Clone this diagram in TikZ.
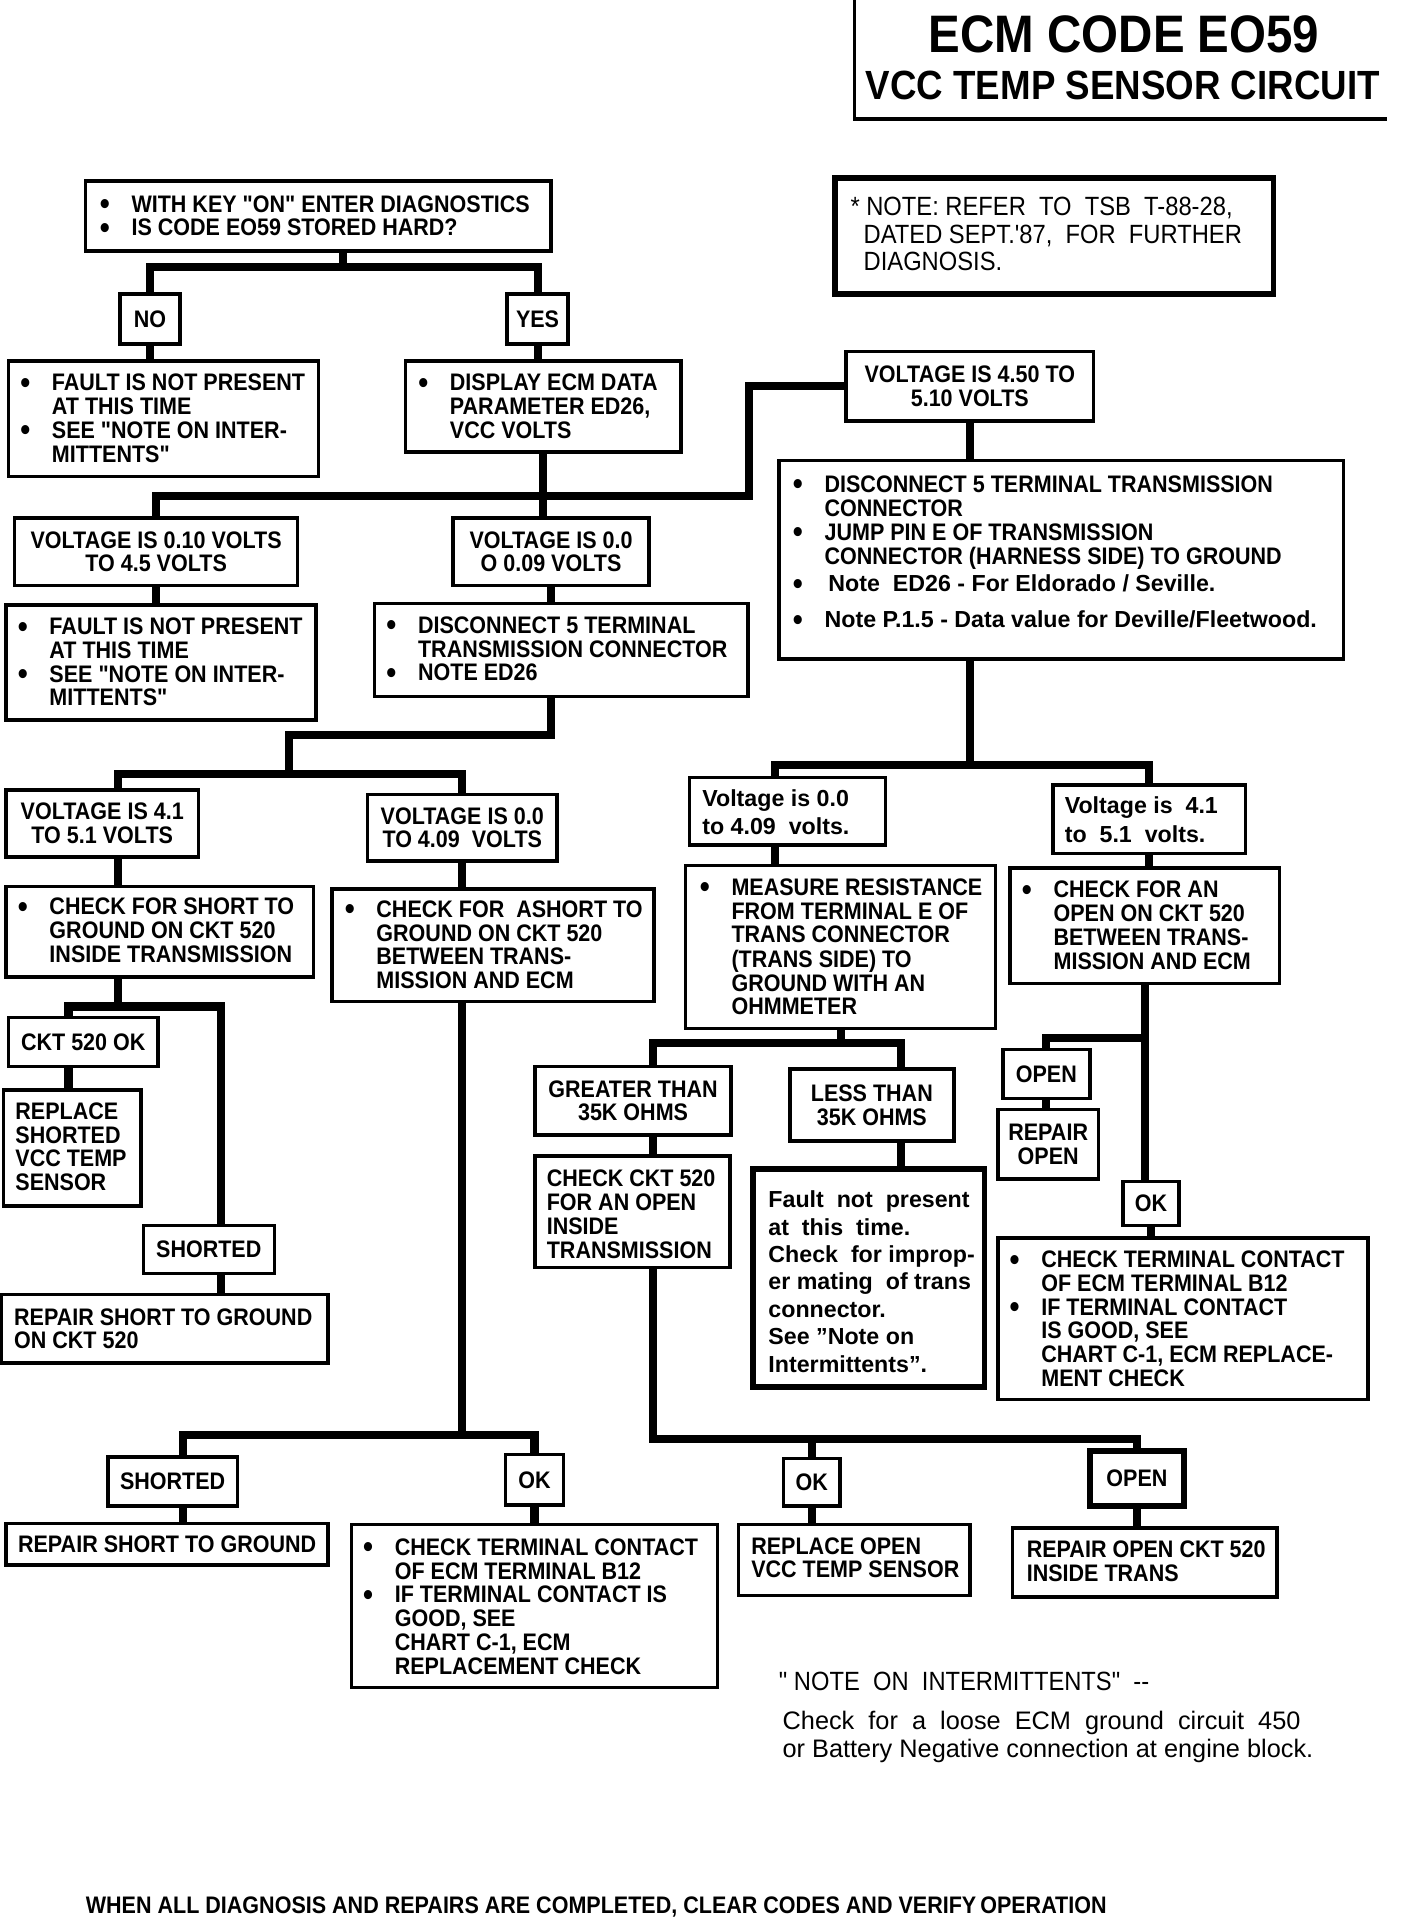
\documentclass[tikz,border=0pt]{standalone}
\usepackage{fontspec}
\setmainfont{Liberation Sans}
\newfontfamily\condfont[FakeStretch=0.9]{Liberation Sans}
\usetikzlibrary{fit}

\newcommand{\itm}{\makebox[9pt][l]{\raisebox{-0.7pt}{\fontsize{9}{9}\selectfont\textbullet}}}
\newcommand{\ind}{\hspace*{9pt}}
\newcommand{\helv}{\normalfont\bfseries\fontsize{6.6}{7.8}\selectfont}
\newcommand{\rows}[1]{\begin{tabular}{@{}l@{}}#1\end{tabular}}

\tikzset{
  cbox/.style={draw, line width=1pt, inner sep=0pt},
  ctext/.style={anchor=north west, inner sep=0pt,
    font=\condfont\bfseries\fontsize{6.8}{6.7}\selectfont},
  ttext/.style={inner sep=0pt, align=center,
    font=\condfont\bfseries\fontsize{6.8}{6.7}\selectfont},
  htext/.style={ctext, font=\helv},
  heavy/.style={line width=1.7pt},
  conn/.style={line width=2.3pt},
}

\begin{document}
\begin{tikzpicture}[x=0.012245cm, y=-0.012245cm]
    \useasboundingbox (0,0) rectangle (1150,1568);

    % title block
    \draw[line width=1pt] (698,0) -- (698,97) -- (1133,97);
    \node[font=\condfont\bfseries\fontsize{15}{18}\selectfont] (title) at (918,28) {ECM CODE EO59};
    \node[font=\condfont\bfseries\fontsize{11.6}{14}\selectfont] (subtitle) at (917,70) {VCC TEMP SENSOR CIRCUIT};

    % TSB note
    \node[cbox, heavy, fit={(682,145) (1040,240)}] (tsb) {};
    \node[ctext, font=\condfont\fontsize{7.5}{7.8}\selectfont] (tsbT) at (694,160)
        {\rows{* NOTE: REFER\ \ TO\ \ TSB\ \ T-88-28,\\
         \ \ DATED SEPT.'87,\ \ FOR\ \ FURTHER\\
         \ \ DIAGNOSIS.}};

    % start
    \node[cbox, fit={(70,148) (450,205)}] (start) {};
    \node[ctext] (startT) at (81,159)
        {\rows{\itm WITH KEY "ON" ENTER DIAGNOSTICS\\
         \itm IS CODE EO59 STORED HARD?}};
    \node[cbox, fit={(98,240) (147,281)}] (no) {};
    \node[ttext] (noT) at (no) {NO};
    \node[cbox, fit={(414,240) (464,281)}] (yes) {};
    \node[ttext] (yesT) at (yes) {YES};
    \node[cbox, fit={(7,295) (260,389)}] (flt1) {};
    \node[ctext] (flt1T) at (16,305)
        {\rows{\itm FAULT IS NOT PRESENT\\
         \ind AT THIS TIME\\
         \itm SEE "NOTE ON INTER-\\
         \ind MITTENTS"}};
    \node[cbox, fit={(331,295) (556,369)}] (disp) {};
    \node[ctext] (dispT) at (341,305)
        {\rows{\itm DISPLAY ECM DATA\\
         \ind PARAMETER ED26,\\
         \ind VCC VOLTS}};

    % ED26 readings
    \node[cbox, fit={(691,287) (893,344)}] (v45) {};
    \node[ttext] (v45T) at (v45) {VOLTAGE IS 4.50 TO\\ 5.10 VOLTS};
    \node[cbox, fit={(12,423) (243,478)}] (v010) {};
    \node[ttext] (v010T) at (v010) {VOLTAGE IS 0.10 VOLTS\\ TO 4.5 VOLTS};
    \node[cbox, fit={(370,423) (530,478)}] (v000) {};
    \node[ttext] (v000T) at (v000) {VOLTAGE IS 0.0\\ O 0.09 VOLTS};
    \node[cbox, fit={(5,494) (258,588)}] (flt2) {};
    \node[ctext] (flt2T) at (14,504)
        {\rows{\itm FAULT IS NOT PRESENT\\
         \ind AT THIS TIME\\
         \itm SEE "NOTE ON INTER-\\
         \ind MITTENTS"}};
    \node[cbox, fit={(306,493) (611,569)}] (dis5) {};
    \node[ctext] (dis5T) at (315,503)
        {\rows{\itm DISCONNECT 5 TERMINAL\\
         \ind TRANSMISSION CONNECTOR\\
         \itm NOTE ED26}};
    \node[cbox, fit={(636,376) (1097,538)}] (disc) {};
    \node[ctext] (discT) at (647,388)
        {\rows{\itm DISCONNECT 5 TERMINAL TRANSMISSION\\
         \ind CONNECTOR\\
         \itm JUMP PIN E OF TRANSMISSION\\
         \ind CONNECTOR (HARNESS SIDE) TO GROUND\\[1pt]
         \itm {\helv \,Note\ \ ED26 - For Eldorado / Seville.}\\[3.4pt]
         \itm {\helv Note P.1.5 - Data value for Deville/Fleetwood.}}};

    % left branch
    \node[cbox, fit={(5,645) (162,700)}] (v41) {};
    \node[ttext] (v41T) at (v41) {VOLTAGE IS 4.1\\ TO 5.1 VOLTS};
    \node[cbox, fit={(300,649) (455,703)}] (v409) {};
    \node[ttext] (v409T) at (v409) {VOLTAGE IS 0.0\\ TO 4.09\ \ VOLTS};
    \node[cbox, fit={(5,724) (256,798)}] (shrt1) {};
    \node[ctext] (shrt1T) at (14,733)
        {\rows{\itm CHECK FOR SHORT TO\\
         \ind GROUND ON CKT 520\\
         \ind INSIDE TRANSMISSION}};
    \node[cbox, fit={(271,726) (534,818)}] (shrt2) {};
    \node[ctext] (shrt2T) at (281,735)
        {\rows{\itm CHECK FOR\ \ ASHORT TO\\
         \ind GROUND ON CKT 520\\
         \ind BETWEEN TRANS-\\
         \ind MISSION AND ECM}};
    \node[cbox, fit={(7,831) (129,871)}] (ckt) {};
    \node[ttext] (cktT) at (ckt) {CKT 520 OK};
    \node[cbox, fit={(3,890) (115,985)}] (repl) {};
    \node[ctext] (replT) at (12,900) {\rows{REPLACE\\ SHORTED\\ VCC TEMP\\ SENSOR}};
    \node[cbox, fit={(117,1001) (224,1040)}] (shd1) {};
    \node[ttext] (shd1T) at (shd1) {SHORTED};
    \node[cbox, fit={(1,1057) (268,1113)}] (rsg1) {};
    \node[ctext] (rsg1T) at (11,1068) {\rows{REPAIR SHORT TO GROUND\\ ON CKT 520}};
    \node[cbox, fit={(88,1190) (194,1230)}] (shd2) {};
    \node[ttext] (shd2T) at (shd2) {SHORTED};
    \node[cbox, fit={(5,1244) (268,1278)}] (rsg2) {};
    \node[ttext] (rsg2T) at (rsg2) {REPAIR SHORT TO GROUND};
    \node[cbox, fit={(413,1188) (460,1229)}] (ok2) {};
    \node[ttext] (ok2T) at (ok2) {OK};
    \node[cbox, fit={(287,1245) (586,1378)}] (ctc2) {};
    \node[ctext] (ctc2T) at (296,1256)
        {\rows{\itm CHECK TERMINAL CONTACT\\
         \ind OF ECM TERMINAL B12\\
         \itm IF TERMINAL CONTACT IS\\
         \ind GOOD, SEE\\
         \ind CHART C-1, ECM\\
         \ind REPLACEMENT CHECK}};

    % right branch
    \node[cbox, fit={(563,635) (723,690)}] (vl1) {};
    \node[htext, font=\helv\fontsize{6.6}{8}\selectfont] (vl1T) at (573,642)
        {\rows{Voltage is 0.0\\ to 4.09\ \ volts.}};
    \node[cbox, fit={(860,641) (1017,697)}] (vl2) {};
    \node[htext, font=\helv\fontsize{6.6}{8}\selectfont] (vl2T) at (869,648)
        {\rows{Voltage is\ \ 4.1\\ to\ \ 5.1\ \ volts.}};
    \node[cbox, fit={(560,707) (813,840)}] (meas) {};
    \node[ctext] (measT) at (571,717)
        {\rows{\itm MEASURE RESISTANCE\\
         \ind FROM TERMINAL E OF\\
         \ind TRANS CONNECTOR\\
         \ind (TRANS\ SIDE) TO\\
         \ind GROUND WITH AN\\
         \ind OHMMETER}};
    \node[cbox, fit={(825,709) (1045,803)}] (opn) {};
    \node[ctext] (opnT) at (834,719)
        {\rows{\itm CHECK FOR AN\\
         \ind OPEN ON CKT 520\\
         \ind BETWEEN TRANS-\\
         \ind MISSION AND ECM}};
    \node[cbox, fit={(437,871) (597,927)}] (gt) {};
    \node[ttext] (gtT) at (gt) {GREATER THAN\\ 35K OHMS};
    \node[cbox, fit={(645,873) (779,932)}] (lt) {};
    \node[ttext] (ltT) at (lt) {LESS THAN\\ 35K OHMS};
    \node[cbox, fit={(437,944) (596,1035)}] (ckck) {};
    \node[ctext] (ckckT) at (446,955) {\rows{CHECK CKT 520\\ FOR AN OPEN\\ INSIDE\\ TRANSMISSION}};
    \node[cbox, heavy, fit={(615,955) (804,1133)}] (fnp) {};
    \node[htext] (fnpT) at (627,970)
        {\rows{Fault\ \ not\ \ present\\
         at\ \ this\ \ time.\\
         Check\ \ for improp-\\
         er mating\ \ of trans\\
         connector.\\
         See "Note on\\
         Intermittents".}};
    \node[cbox, fit={(819,857) (890,897)}] (open1) {};
    \node[ttext] (open1T) at (open1) {OPEN};
    \node[cbox, fit={(815,906) (897,963)}] (ropen) {};
    \node[ttext] (ropenT) at (ropen) {REPAIR\\ OPEN};
    \node[cbox, fit={(917,965) (963,1001)}] (ok1) {};
    \node[ttext] (ok1T) at (ok1) {OK};
    \node[cbox, fit={(815,1011) (1117,1143)}] (ctc1) {};
    \node[ctext] (ctc1T) at (824,1021)
        {\rows{\itm CHECK TERMINAL CONTACT\\
         \ind OF ECM TERMINAL B12\\
         \itm IF TERMINAL CONTACT\\
         \ind IS GOOD, SEE\\
         \ind CHART C-1, ECM REPLACE-\\
         \ind MENT CHECK}};
    \node[cbox, fit={(640,1191) (686,1230)}] (ok3) {};
    \node[ttext] (ok3T) at (ok3) {OK};
    \node[cbox, fit={(603,1245) (792,1303)}] (rov) {};
    \node[ctext] (rovT) at (613,1255) {\rows{REPLACE OPEN\\ VCC TEMP SENSOR}};
    \node[cbox, heavy, fit={(890,1185) (967,1230)}] (open3) {};
    \node[ttext] (open3T) at (open3) {OPEN};
    \node[cbox, fit={(827,1248) (1043,1304)}] (roc) {};
    \node[ctext] (rocT) at (838,1258) {\rows{REPAIR OPEN CKT 520\\ INSIDE TRANS}};

    % bar levels
    \coordinate (barA) at (0,218);
    \coordinate (barB) at (612,405);
    \coordinate (jogC) at (236,600);
    \coordinate (barC) at (0,632);
    \coordinate (barD) at (0,822);
    \coordinate (barE) at (0,1172);
    \coordinate (barF) at (0,625);
    \coordinate (barG) at (0,852);
    \coordinate (barH) at (0,1175);
    \coordinate (barI) at (0,848);

    % start to NO / YES
    \draw[conn] ([xshift=7pt]start.south) -- ([xshift=7pt]start.south |- barA);
    \draw[conn] (no.north) |- (yes.north |- barA) -- (yes.north);
    \draw[conn] (no.south) -- (no.south |- flt1.north);
    \draw[conn] (yes.south) -- (yes.south |- disp.north);

    % ED26 readings
    \draw[conn] (disp.south) -- (disp.south |- v000.north);
    \draw[conn] (v010.north) |- (barB) |- (v45.west);
    \draw[conn] (v010.south) -- (v010.south |- flt2.north);
    \draw[conn] (v000.south) -- (v000.south |- dis5.north);

    % left branch
    \draw[conn] ([xshift=-3pt]dis5.south) |- (jogC) -- (jogC |- barC);
    \draw[conn] ([xshift=4.4pt]v41.north) |- (v409.north |- barC) -- (v409.north);
    \draw[conn] ([xshift=4.4pt]v41.south) -- ([xshift=4.4pt]v41.south |- shrt1.north);
    \draw[conn] (v409.south) -- (v409.south |- shrt2.north);
    \draw[conn] ([xshift=4.4pt]v41.south |- shrt1.south) -- ([xshift=4.4pt]v41.south |- barD);
    \draw[conn] ([xshift=-4.2pt]ckt.north) |- ([xshift=3.6pt]shd1.north |- barD) -- ([xshift=3.6pt]shd1.north);
    \draw[conn] ([xshift=-4.2pt]ckt.south) -- ([xshift=-4.2pt]ckt.south |- repl.north);
    \draw[conn] ([xshift=3.6pt]shd1.south) -- ([xshift=3.6pt]shd1.south |- rsg1.north);
    \draw[conn] (v409.south |- shrt2.south) -- (v409.south |- barE);
    \draw[conn] ([xshift=3pt]shd2.north) |- (ok2.north |- barE) -- (ok2.north);
    \draw[conn] ([xshift=3pt]shd2.south) -- ([xshift=3pt]shd2.south |- rsg2.north);
    \draw[conn] (ok2.south) -- (ok2.south |- ctc2.north);

    % right branch
    \draw[conn] (v45.south) -- (v45.south |- disc.north);
    \draw[conn] (v45.south |- disc.south) -- (v45.south |- barF);
    \draw[conn] ([xshift=-3.5pt]vl1.north) |- (vl2.north |- barF) -- (vl2.north);
    \draw[conn] ([xshift=-3.5pt]vl1.south) -- ([xshift=-3.5pt]vl1.south |- meas.north);
    \draw[conn] (vl2.south) -- (vl2.south |- opn.north);
    \draw[conn] (meas.south) -- (meas.south |- barG);
    \draw[conn] ([xshift=5.6pt]gt.north) |- ([xshift=8.4pt]lt.north |- barG) -- ([xshift=8.4pt]lt.north);
    \draw[conn] ([xshift=5.6pt]gt.south) -- ([xshift=5.6pt]gt.south |- ckck.north);
    \draw[conn] ([xshift=8.4pt]lt.south) -- ([xshift=8.4pt]lt.south |- fnp.north);
    \draw[conn] ([xshift=5.6pt]gt.south |- ckck.south) |- (open3.north |- barH) -- (open3.north);
    \draw[conn] (ok3.north) -- (ok3.north |- barH);
    \draw[conn] (ok3.south) -- (ok3.south |- rov.north);
    \draw[conn] (open3.south) -- (open3.south |- roc.north);
    \draw[conn] (opn.south) -- (opn.south |- ok1.north);
    \draw[conn] (open1.north) |- (opn.south |- barI);
    \draw[conn] (open1.south) -- (open1.south |- ropen.north);
    \draw[conn] (ok1.south) -- (ok1.south |- ctc1.north);

    % intermittents note
    \node[anchor=west, font=\condfont\fontsize{7.5}{9}\selectfont] (intnote) at (626,1373)
        {" NOTE\ \ ON\ \ INTERMITTENTS"\ \ --};
    \node[anchor=west, font=\fontsize{7.2}{9}\selectfont] (intchk) at (629,1407)
        {Check\ \ for\ \ a\ \ loose\ \ ECM\ \ ground\ \ circuit\ \ 450};
    \node[anchor=west, font=\fontsize{7.2}{9}\selectfont] (intbat) at (629,1430)
        {or Battery Negative connection at engine block.};

    % footer
    \node[anchor=west, font=\condfont\bfseries\fontsize{6.8}{8}\selectfont] (footer) at (60,1557)
        {WHEN ALL DIAGNOSIS AND REPAIRS ARE COMPLETED, CLEAR CODES AND VERIFY\,OPERATION};
\end{tikzpicture}
\end{document}
